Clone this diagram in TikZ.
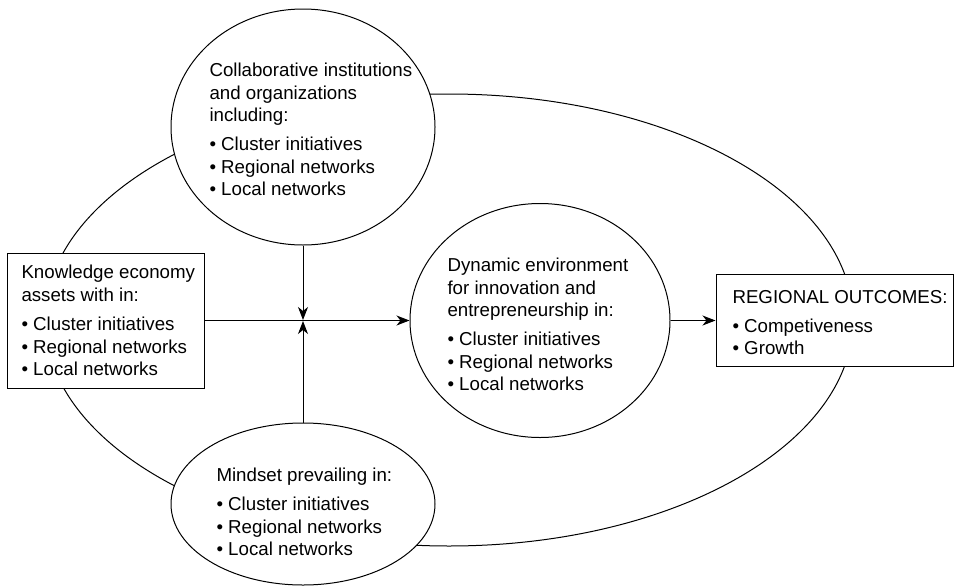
\documentclass[tikz,border=0pt]{standalone}
\usepackage{fontspec}
\setmainfont{Liberation Sans}
\usetikzlibrary{shapes.geometric,arrows.meta}
\begin{document}
\begin{tikzpicture}[x=1pt,y=-1pt, line width=1pt,
  boxnode/.style={draw, rectangle, fill=white, inner sep=0pt},
  oval/.style={draw, ellipse, fill=white, inner sep=0pt},
  txt/.style={align=left, inner sep=0pt, anchor=west, text=black,
    font=\fontsize{18.7}{22.4}\selectfont},
  arr/.style={-{Stealth[length=13pt,width=10pt,inset=4pt]}}]
\useasboundingbox (0,0) rectangle (954,587);
% large background loop
\node[draw, ellipse, inner sep=0pt, minimum width=808pt, minimum height=452pt] (loop) at (449,320) {};
% shapes
\node[oval, minimum width=264pt, minimum height=236pt] (collab) at (303,127) {};
\node[oval, minimum width=260pt, minimum height=234pt] (dyn) at (540,320.5) {};
\node[oval, minimum width=264pt, minimum height=162pt] (mind) at (303,504) {};
\node[boxnode, minimum width=197pt, minimum height=135pt] (kbox) at (105.5,320.5) {};
\node[boxnode, minimum width=237pt, minimum height=92pt] (obox) at (834.5,320.5) {};
% texts
\node[txt] (collabtxt) at (209,129.5) {Collaborative institutions\\and organizations\\including:\\[7pt]• Cluster initiatives\\• Regional networks\\• Local networks};
\node[txt] (dyntxt) at (447,324.5) {Dynamic environment\\for innovation and\\entrepreneurship in:\\[7pt]• Cluster initiatives\\• Regional networks\\• Local networks};
\node[txt] (mindtxt) at (216,512) {Mindset prevailing in:\\[7pt]• Cluster initiatives\\• Regional networks\\• Local networks};
\node[txt] (ktxt) at (21,320.5) {Knowledge economy\\assets with in:\\[7pt]• Cluster initiatives\\• Regional networks\\• Local networks};
\node[txt] (otxt) at (732,322.5) {REGIONAL OUTCOMES:\\[7pt]• Competiveness\\• Growth};
% connectors
\coordinate (j) at (303,320.5);
\draw[arr] (kbox.east) -- (dyn.west);
\draw[arr] (dyn.east) -- (obox.west);
\draw[arr, shorten >=0.5pt] (collab.south) -- (j);
\draw[arr, shorten >=0.5pt] (mind.north) -- (j);
\end{tikzpicture}
\end{document}
